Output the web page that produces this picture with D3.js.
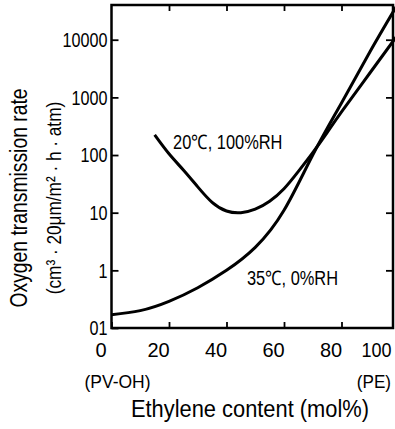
<!DOCTYPE html>
<html>
<head>
<meta charset="utf-8">
<script src="https://cdn.jsdelivr.net/npm/d3@7"></script>
<style>
  body { margin: 0; background: #fff; }
  svg { display: block; font-family: "Liberation Sans", Arial, sans-serif; }
</style>
</head>
<body>
<svg id="chart" width="395" height="429"></svg>
<script>
// ethylene content (mol%) and O2 transmission rate, 35℃ 0%RH
const dryX = [0, 10, 20, 30, 40, 50, 60, 70, 80, 90, 100];
const dryRate = [0.17, 0.2, 0.29, 0.5, 1.0, 2.5, 11, 100, 800, 6300, 45000];
// 20℃ 100%RH
const wetX = [15, 20, 25, 30, 35, 40, 45, 50, 55, 60, 65, 70, 75, 80, 90, 100];
const wetRate = [224, 105, 55, 28, 15.1, 10.7, 10, 11.5, 15.8, 26, 52, 110, 245, 560, 2700, 13000];

const xTicks = [0, 20, 40, 60, 80, 100];
const yTicks = [0.1, 1, 10, 100, 1000, 10000];
const yTickLabels = ["01", "1", "10", "100", "1000", "10000"];
const curveLabels = [
  { text: "20℃, 100%RH", x: 21.4, y: 125 },
  { text: "35℃, 0%RH", x: 47.1, y: 0.56 }
];

const svg = d3.select("#chart"),
      width = +svg.attr("width");

const x = d3.scaleLinear().domain([0, 100]).range([111.5, 399]);
const y = d3.scaleLog().domain([0.1, 40000]).range([328, 5]);
const frameRight = width - 2;

// shrink text horizontally, the scan uses a narrow face
function condense(sel, k) {
  sel.each(function() {
    const w = this.getComputedTextLength();
    d3.select(this).attr("textLength", w * k).attr("lengthAdjust", "spacingAndGlyphs");
  });
}

// frame
svg.append("rect")
    .attr("x", x(0))
    .attr("y", y.range()[1])
    .attr("width", frameRight - x(0))
    .attr("height", y.range()[0] - y.range()[1])
    .attr("fill", "none")
    .attr("stroke", "#000")
    .attr("stroke-width", 2.5);

// inward ticks on all four sides
const yAxis = svg.append("g")
    .attr("transform", `translate(${x(0)},0)`)
    .call(d3.axisLeft(y).tickValues(yTicks).tickSizeInner(-7).tickSizeOuter(0).tickPadding(4)
      .tickFormat((d, i) => yTickLabels[i]));
svg.append("g")
    .attr("transform", `translate(${frameRight},0)`)
    .call(d3.axisRight(y).tickValues(yTicks.slice(1)).tickSizeInner(-7).tickSizeOuter(0).tickFormat(""));
const xAxis = svg.append("g")
    .attr("transform", `translate(0,${y.range()[0]})`)
    .call(d3.axisBottom(x).tickValues(xTicks).tickSizeInner(-6).tickSizeOuter(0).tickPadding(15));
svg.append("g")
    .attr("transform", `translate(0,${y.range()[1]})`)
    .call(d3.axisTop(x).tickValues(xTicks.slice(1, -1)).tickSizeInner(-6).tickSizeOuter(0).tickFormat(""));

svg.selectAll(".domain").remove();
svg.selectAll(".tick line").attr("stroke", "#000").attr("stroke-width", 1.8);

yAxis.selectAll("text")
    .attr("font-size", 21)
    .attr("fill", "#000")
    .call(condense, 0.77);
xAxis.selectAll("text")
    .attr("font-size", 20)
    .attr("fill", "#000")
    .attr("dx", -11);
// the last label sits against the window edge
xAxis.selectAll("text").filter(d => d === 100)
    .attr("text-anchor", "end")
    .attr("dx", 0)
    .attr("x", width - 4 - x(100))
    .call(condense, 0.9);

// curves
const line = d3.line()
    .x(d => x(d[0]))
    .y(d => y(d[1]))
    .curve(d3.curveNatural);

[d3.zip(dryX, dryRate), d3.zip(wetX, wetRate)].forEach(pts => {
  svg.append("path")
      .attr("d", line(pts))
      .attr("fill", "none")
      .attr("stroke", "#000")
      .attr("stroke-width", 3);
});

svg.selectAll(".curve-label")
  .data(curveLabels)
  .enter().append("text")
    .attr("class", "curve-label")
    .attr("x", d => x(d.x))
    .attr("y", d => y(d.y))
    .attr("font-size", 20)
    .text(d => d.text)
    .call(condense, 0.82);

// end labels under the x axis
svg.append("text")
    .attr("x", x(0) + 6)
    .attr("y", 388)
    .attr("text-anchor", "middle")
    .attr("font-size", 19)
    .text("(PV-OH)")
    .call(condense, 0.92);
svg.append("text")
    .attr("x", width - 4)
    .attr("y", 388)
    .attr("text-anchor", "end")
    .attr("font-size", 19)
    .text("(PE)")
    .call(condense, 0.9);

// axis titles
svg.append("text")
    .attr("x", 250)
    .attr("y", 417)
    .attr("text-anchor", "middle")
    .attr("font-size", 23)
    .text("Ethylene content (mol%)")
    .call(condense, 0.95);

const yTitle = svg.append("g")
    .attr("transform", "translate(0,198) rotate(-90)")
    .attr("text-anchor", "middle");
yTitle.append("text")
    .attr("y", 27)
    .attr("font-size", 23)
    .text("Oxygen transmission rate")
    .call(condense, 0.84);
yTitle.append("text")
    .attr("y", 61)
    .attr("font-size", 20)
    .text("(cm³ · 20μm/m² · h · atm)")
    .call(condense, 0.86);
</script>
</body>
</html>
